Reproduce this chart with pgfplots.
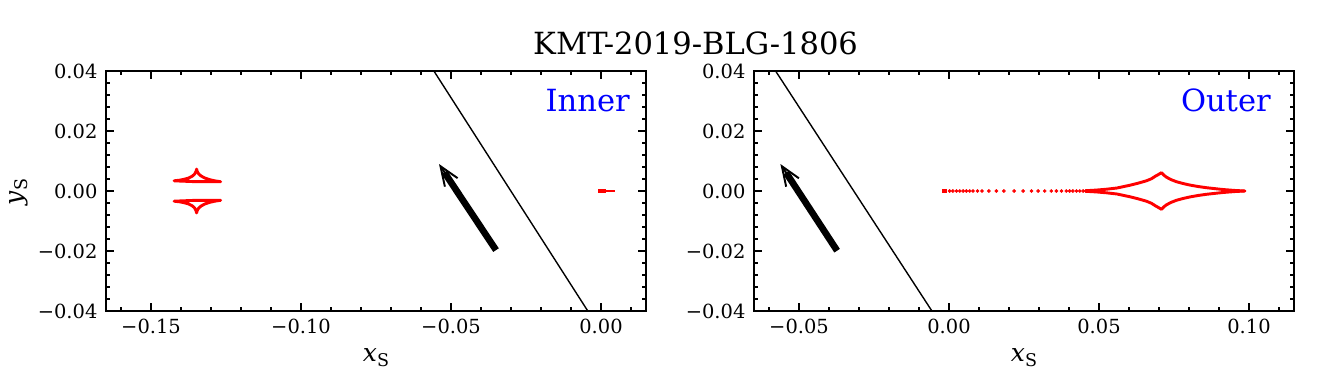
\documentclass[border=0pt]{standalone}
\usepackage{fontspec}
\setmainfont{DejaVu Serif}
\usepackage{pgfplots}
\pgfplotsset{compat=1.18}
\usetikzlibrary{arrows.meta}

\definecolor{cred}{RGB}{255,0,0}
\definecolor{cblue}{RGB}{0,0,255}

\pgfplotsset{
  panel/.style={
    anchor=south west, width=388.8bp, height=172.8bp, scale only axis,
    ymin=-0.04, ymax=0.04,
    scaled x ticks=false, scaled y ticks=false,
    ytick={-0.04,-0.02,0,0.02,0.04},
    yticklabels={−0.04,−0.02,0.00,0.02,0.04},
    minor ytick={-0.036,-0.032,-0.028,-0.024,-0.016,-0.012,-0.008,-0.004,0.004,0.008,0.012,0.016,0.024,0.028,0.032,0.036},
    tick align=inside, tick pos=both,
    xticklabel pos=lower, yticklabel pos=left,
    major tick length=5.5bp, minor tick length=2.7bp,
    every tick/.style={black, line width=0.8bp},
    axis line style={line width=0.8bp},
    tick label style={font=\fontsize{14bp}{16bp}\selectfont},
    xticklabel style={inner sep=0pt, yshift=-5.5bp},
    yticklabel style={inner sep=0pt, xshift=-6bp},
    clip=true,
  },
  caus/.style={cred, line width=2.1bp, line join=round, line cap=round},
  dots/.style={cred, only marks, mark=*, mark size=1.1bp, mark options={draw=none, fill=cred}},
}

\newcommand{\lab}[1]{{\fontsize{18bp}{20bp}\selectfont\textit{#1}\raisebox{-3.6bp}{\fontsize{12.6bp}{14bp}\selectfont S}}}

\begin{document}
\begin{tikzpicture}
\path[use as bounding box] (0,0) rectangle (950.4bp,277.2bp);

% ---------------- Inner ----------------
\begin{axis}[panel, at={(76.32bp,53.28bp)},
  xmin=-0.165, xmax=0.015,
  xtick={-0.15,-0.10,-0.05,0},
  xticklabels={−0.15,−0.10,−0.05,0.00},
  minor xtick={-0.16,-0.14,-0.13,-0.12,-0.11,-0.09,-0.08,-0.07,-0.06,-0.04,-0.03,-0.02,-0.01,0.01},
]
% trajectory
\addplot[black, line width=1bp] coordinates {(-0.0557,0.04) (-0.0044,-0.04)};
% arrow
\addplot[black, line width=4.8bp] coordinates {(-0.0350,-0.0197) (-0.0522,0.0062)};
\addplot[black, line width=1.4bp, -{Straight Barb[length=14bp, width=11bp]}] coordinates {(-0.0450,-0.0045) (-0.0540,0.0090)};
% planetary caustic, upper
\addplot[caus] coordinates {
(-0.1423,0.0034) (-0.1405,0.0036) (-0.1390,0.0039) (-0.1375,0.0043) (-0.1363,0.0049)
(-0.1355,0.0056) (-0.1350,0.0065) (-0.1348,0.0073)
(-0.1346,0.0065) (-0.1341,0.0057) (-0.1333,0.0050) (-0.1320,0.0043) (-0.1305,0.0038)
(-0.1288,0.0034) (-0.1268,0.0031)
(-0.1290,0.0031) (-0.1320,0.0031) (-0.1348,0.0031) (-0.1375,0.0032) (-0.1400,0.0033) (-0.1423,0.0034)};
% planetary caustic, lower
\addplot[caus] coordinates {
(-0.1423,-0.0034) (-0.1405,-0.0036) (-0.1390,-0.0039) (-0.1375,-0.0043) (-0.1363,-0.0049)
(-0.1355,-0.0056) (-0.1350,-0.0065) (-0.1348,-0.0073)
(-0.1346,-0.0065) (-0.1341,-0.0057) (-0.1333,-0.0050) (-0.1320,-0.0043) (-0.1305,-0.0038)
(-0.1288,-0.0034) (-0.1268,-0.0031)
(-0.1290,-0.0031) (-0.1320,-0.0031) (-0.1348,-0.0031) (-0.1375,-0.0032) (-0.1400,-0.0033) (-0.1423,-0.0034)};
% central caustic
\addplot[caus, line width=2.8bp, line cap=butt] coordinates {(-0.0009,0) (0.0015,0)};
\addplot[caus, line width=2.0bp, line cap=butt] coordinates {(0.0010,0) (0.0047,0)};
\end{axis}

% ---------------- Outer ----------------
\begin{axis}[panel, at={(542.88bp,53.28bp)},
  xmin=-0.065, xmax=0.115,
  xtick={-0.05,0,0.05,0.10},
  xticklabels={−0.05,0.00,0.05,0.10},
  minor xtick={-0.06,-0.04,-0.03,-0.02,-0.01,0.01,0.02,0.03,0.04,0.06,0.07,0.08,0.09,0.11},
]
\addplot[black, line width=1bp] coordinates {(-0.0578,0.04) (-0.0057,-0.04)};
\addplot[black, line width=4.8bp] coordinates {(-0.0373,-0.0199) (-0.0543,0.0061)};
\addplot[black, line width=1.4bp, -{Straight Barb[length=14bp, width=11bp]}] coordinates {(-0.0470,-0.0050) (-0.0562,0.0090)};
% dense left end
\addplot[caus, line width=3.4bp, line cap=butt] coordinates {(-0.0023,0) (-0.0006,0)};
% sparse tail
\addplot[dots] coordinates {
(0.0002,0) (0.0013,0) (0.0025,0) (0.0036,0) (0.0047,0) (0.0058,0) (0.0069,0) (0.0080,0)
(0.0095,0) (0.0110,0) (0.0133,0) (0.0158,0) (0.0183,0) (0.0217,0) (0.0247,0) (0.0275,0)
(0.0297,0) (0.0319,0) (0.0341,0) (0.0358,0) (0.0375,0) (0.0391,0) (0.0402,0) (0.0413,0)
(0.0425,0) (0.0436,0) (0.0447,0)};
% upper branch
\addplot[caus] coordinates {
(0.0455,0.0001) (0.0490,0.0003) (0.0525,0.0006) (0.0560,0.0010) (0.0602,0.0019)
(0.0630,0.0026) (0.0658,0.0034) (0.0675,0.0041) (0.0689,0.0050) (0.0700,0.0056) (0.0708,0.0061)
(0.0716,0.0053) (0.0725,0.0046) (0.0740,0.0038) (0.0758,0.0031) (0.0780,0.0025)
(0.0802,0.0020) (0.0830,0.0015) (0.0858,0.0011) (0.0885,0.0008) (0.0913,0.0005)
(0.0950,0.0002) (0.0986,0.0000)};
% lower branch
\addplot[caus] coordinates {
(0.0455,-0.0001) (0.0490,-0.0003) (0.0525,-0.0006) (0.0560,-0.0010) (0.0602,-0.0019)
(0.0630,-0.0026) (0.0658,-0.0034) (0.0675,-0.0041) (0.0689,-0.0050) (0.0700,-0.0056) (0.0708,-0.0061)
(0.0716,-0.0053) (0.0725,-0.0046) (0.0740,-0.0038) (0.0758,-0.0031) (0.0780,-0.0025)
(0.0802,-0.0020) (0.0830,-0.0015) (0.0858,-0.0011) (0.0885,-0.0008) (0.0913,-0.0005)
(0.0950,-0.0002) (0.0986,0.0000)};
\end{axis}

% texts
\node[anchor=base, inner sep=0pt, font=\fontsize{22bp}{26bp}\selectfont] at (500.8bp,238.3bp) {KMT-2019-BLG-1806};
\node[anchor=base east, inner sep=0pt, text=cblue, font=\fontsize{22bp}{26bp}\selectfont] at (453.6bp,196.6bp) {Inner};
\node[anchor=base east, inner sep=0pt, text=cblue, font=\fontsize{22bp}{26bp}\selectfont] at (915.1bp,196.6bp) {Outer};
\node[anchor=base, inner sep=0pt] at (270.7bp,17.0bp) {\lab{x}};
\node[anchor=base, inner sep=0pt] at (737.3bp,17.0bp) {\lab{x}};
\node[anchor=base, inner sep=0pt, rotate=90] at (16.5bp,139.0bp) {\lab{y}};
\end{tikzpicture}
\end{document}
